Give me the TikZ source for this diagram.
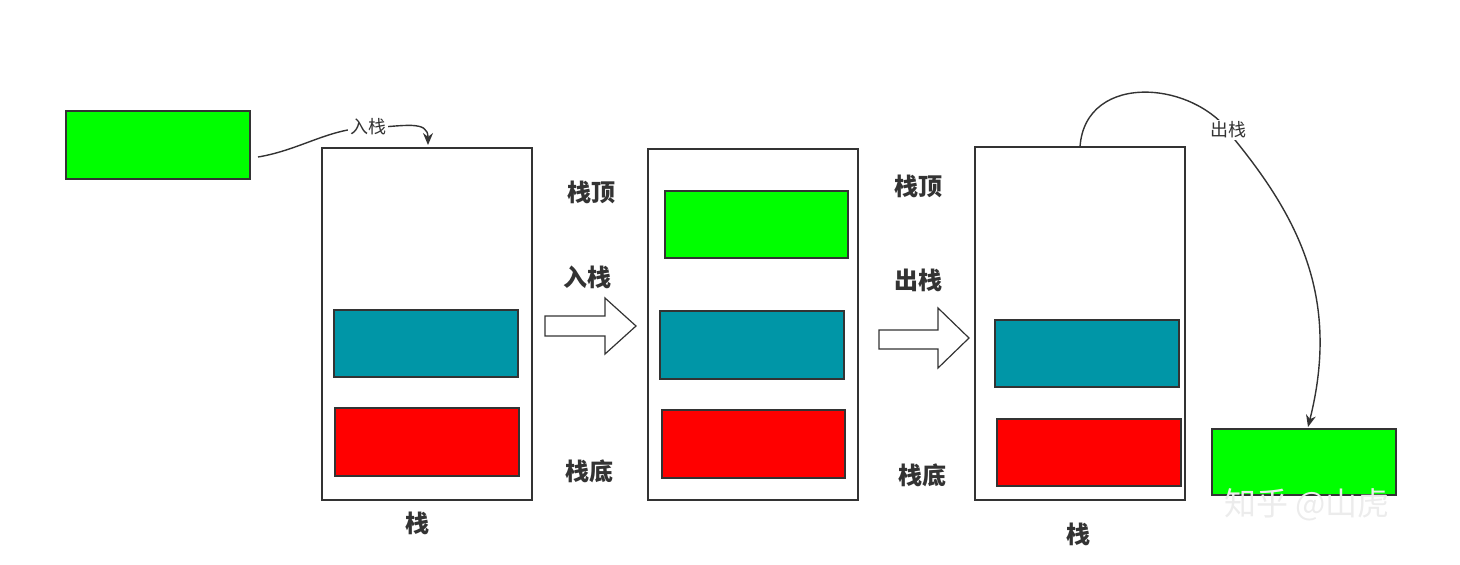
\documentclass[tikz,border=0pt]{standalone}
\usepackage{fontspec}
\setmainfont{Noto Sans CJK SC}
\usetikzlibrary{arrows.meta,shapes.arrows}
\definecolor{bgreen}{RGB}{0,255,0}
\definecolor{bteal}{RGB}{0,150,167}
\definecolor{bred}{RGB}{255,0,0}
\definecolor{edge}{RGB}{51,51,51}
\tikzset{
  blk/.style={draw=edge,line width=0.6pt},
  stk/.style={draw=edge,line width=0.6pt,fill=white},
  lbl/.style={font=\bfseries\fontsize{12}{12}\selectfont,text=edge},
  sm/.style={font=\fontsize{9}{9}\selectfont,text=edge,fill=white,inner sep=1pt},
  conn/.style={draw=edge,line width=0.7pt,-{Stealth[length=6pt,width=5pt]}},
  barrow/.style={draw=edge,line width=0.6pt,fill=white}
}
\begin{document}
\begin{tikzpicture}[x=0.5pt,y=-0.5pt]
\useasboundingbox (0,0) rectangle (1460,564);
% left green
\draw[blk,fill=bgreen] (66,111) rectangle (250,179);
\coordinate (g0) at (258,157);
% stack 1
\draw[stk] (322,148) rectangle (532,500);
\coordinate (s1top) at (428,145);
\draw[blk,fill=bteal] (334,310) rectangle (518,377);
\draw[blk,fill=bred] (335,408) rectangle (519,476);
\node[lbl] (l1) at (417,523) {栈};
\draw[conn] (g0) .. controls (300,150) and (330,128) .. (368,128) .. controls (405,126) and (428,120) .. (s1top);
\node[sm] (t1) at (368,127) {入栈};
% mid labels
\node[lbl] (a1) at (591,192) {栈顶};
\node[lbl] (a2) at (587,277) {入栈};
\node[lbl] (a3) at (589,471) {栈底};
\draw[barrow] (545,316) -- (605,316) -- (605,298) -- (636,326) -- (605,354) -- (605,336) -- (545,336) -- cycle;
% stack 2
\draw[stk] (648,149) rectangle (858,500);
\draw[blk,fill=bgreen] (665,191) rectangle (848,258);
\draw[blk,fill=bteal] (660,311) rectangle (844,379);
\draw[blk,fill=bred] (662,410) rectangle (845,478);
\node[lbl] (b1) at (918,186) {栈顶};
\node[lbl] (b2) at (918,280) {出栈};
\node[lbl] (b3) at (922,475) {栈底};
\draw[barrow] (879,330) -- (938,330) -- (938,308) -- (969,338) -- (938,368) -- (938,349) -- (879,349) -- cycle;
% stack 3
\draw[stk] (975,147) rectangle (1185,500);
\draw[blk,fill=bteal] (995,320) rectangle (1179,387);
\draw[blk,fill=bred] (997,419) rectangle (1181,486);
\node[lbl] (c1) at (1078,534) {栈};
\coordinate (s3top) at (1080,147);
\draw[blk,fill=bgreen] (1212,429) rectangle (1396,495);
\coordinate (g3) at (1308,427);
\draw[conn] (s3top) .. controls (1085,70) and (1200,80) .. (1235,140) .. controls (1300,220) and (1340,300) .. (g3);
\node[sm] (t3) at (1228,130) {出栈};
\node[font=\fontsize{16}{16}\selectfont,text=white!85!gray] (wm) at (1307,505) {知乎 @山虎};
\end{tikzpicture}
\end{document}
